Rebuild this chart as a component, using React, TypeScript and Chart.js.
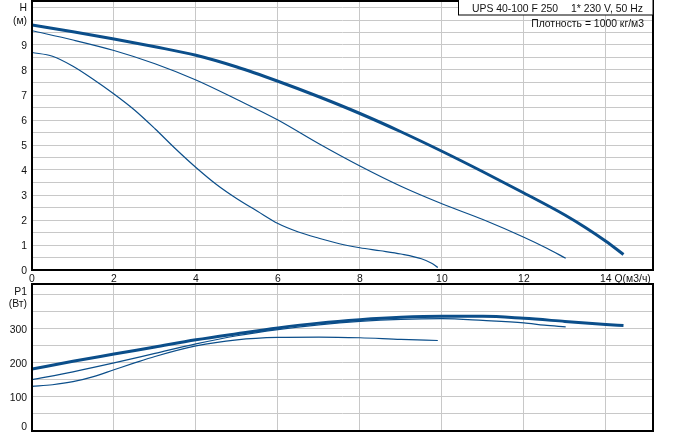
import { useEffect, useRef } from 'react';
import { Chart, registerables } from 'chart.js';

Chart.register(...registerables);

const FONT = '"Liberation Sans", Arial, sans-serif';
const FONT_SIZE = 10.4;
const CURVE = '#0b4e8a';
const GRID = '#c8c8c8';
const TEXT = '#111111';

// Axis ticks / labels
const qTickLabels = [0, 2, 4, 6, 8, 10, 12, 14];
const hTickLabels = [0, 1, 2, 3, 4, 5, 6, 7, 8, 9];
const pTickLabels = [0, 100, 200, 300];
const Q_UNIT = 'Q(м3/ч)';
const H_TITLE = 'H';
const H_UNIT = '(м)';
const P_TITLE = 'P1';
const P_UNIT = '(Вт)';
const MODEL = 'UPS 40-100 F 250';
const SUPPLY = '1* 230 V, 50 Hz';
const DENSITY = 'Плотность = 1000 кг/м3';

// H(Q) curves – speed 3, 2, 1
const hQ3 = [0, 1, 2, 3, 4, 5, 6, 7, 8, 9, 10, 11, 12, 13, 13.5, 14, 14.43];
const hH3 = [9.8, 9.53, 9.24, 8.93, 8.59, 8.12, 7.55, 6.93, 6.26, 5.53, 4.75, 3.93, 3.08, 2.2, 1.7, 1.15, 0.62];
const hQ2 = [0, 1, 2, 3, 4, 5, 6, 7, 8, 9, 10, 11, 12, 12.56, 13.02];
const hH2 = [9.57, 9.2, 8.78, 8.25, 7.6, 6.82, 6.0, 5.05, 4.16, 3.35, 2.65, 2.02, 1.31, 0.87, 0.47];
const hQ1 = [0, 0.5, 1, 1.5, 2, 2.5, 3, 3.5, 4, 4.5, 5, 5.5, 6, 6.5, 7, 7.5, 8, 8.5, 9, 9.5, 9.75, 9.9];
const hH1 = [8.7, 8.55, 8.15, 7.62, 7.04, 6.4, 5.65, 4.85, 4.1, 3.42, 2.85, 2.35, 1.86, 1.52, 1.27, 1.05, 0.89, 0.77, 0.64, 0.45, 0.27, 0.1];

// P1(Q) curves – speed 3, 2, 1
const pQ3 = [0, 1, 2, 3, 4, 5, 6, 7, 8, 9, 10, 11, 12, 13, 14, 14.43];
const pP3 = [182, 205, 226, 247, 268, 286, 303, 317, 327, 334, 337, 337, 331, 322, 313, 310];
const pQ2 = [0, 1, 2, 3, 4, 5, 6, 7, 8, 9, 10, 11, 12, 12.5, 13.02];
const pP2 = [151, 174, 200, 228, 256, 280, 298, 312, 322, 328, 330, 325, 318, 311, 306];
const pQ1 = [0, 0.5, 1, 1.5, 2, 2.5, 3, 4, 5, 6, 7, 8, 9, 9.9];
const pP1 = [131, 136, 145, 160, 180, 200, 219, 250, 268, 275, 276, 274, 269, 266];

const Q_MAX = 15.15;
const H_MAX = 10.76;
const P_MAX = 432;

const pts = (xs: number[], ys: number[]) => xs.map((x, i) => ({ x, y: ys[i] }));

const line = (xs: number[], ys: number[], width: number) => ({
  data: pts(xs, ys),
  borderColor: CURVE,
  borderWidth: width,
  pointRadius: 0,
  fill: false,
  cubicInterpolationMode: 'monotone' as const,
});

function frame(ctx: CanvasRenderingContext2D, a: any) {
  ctx.save();
  ctx.strokeStyle = '#000';
  ctx.lineWidth = 2;
  ctx.strokeRect(a.left, a.top, a.right - a.left, a.bottom - a.top);
  ctx.restore();
}

const topDecor = {
  id: 'topDecor',
  afterDraw(chart: any) {
    const ctx: CanvasRenderingContext2D = chart.ctx;
    const a = chart.chartArea;
    const xs = chart.scales.x;
    const ys = chart.scales.y;
    frame(ctx, a);
    ctx.save();
    ctx.fillStyle = TEXT;
    ctx.font = `${FONT_SIZE}px ${FONT}`;
    ctx.textBaseline = 'alphabetic';
    // y labels
    ctx.textAlign = 'right';
    hTickLabels.forEach((v) => {
      ctx.fillText(String(v), 27, ys.getPixelForValue(v) + 3.7);
    });
    ctx.fillText(H_TITLE, 27, 10.8);
    ctx.fillText(H_UNIT, 27, 24);
    // x labels
    ctx.textAlign = 'center';
    qTickLabels.forEach((v, i) => {
      const px = xs.getPixelForValue(v);
      ctx.fillText(String(v), px, 282);
      if (i === qTickLabels.length - 1) {
        const w = ctx.measureText(String(v)).width;
        ctx.textAlign = 'left';
        ctx.fillText(' ' + Q_UNIT, px + w / 2, 282);
        ctx.textAlign = 'center';
      }
    });
    // header box
    ctx.fillStyle = '#fff';
    ctx.fillRect(458, 0, a.right - 458, 15);
    ctx.strokeStyle = '#000';
    ctx.lineWidth = 1;
    ctx.strokeRect(458.5, -0.5, a.right - 458.5, 15.5);
    ctx.fillStyle = TEXT;
    ctx.textAlign = 'left';
    ctx.fillText(MODEL, 472, 11.7);
    ctx.fillText(SUPPLY, 571, 11.7);
    ctx.textAlign = 'right';
    ctx.fillText(DENSITY, 644, 27);
    ctx.restore();
  },
};

const botDecor = {
  id: 'botDecor',
  afterDraw(chart: any) {
    const ctx: CanvasRenderingContext2D = chart.ctx;
    const a = chart.chartArea;
    const ys = chart.scales.y;
    frame(ctx, a);
    ctx.save();
    ctx.fillStyle = TEXT;
    ctx.font = `${FONT_SIZE}px ${FONT}`;
    ctx.textBaseline = 'alphabetic';
    ctx.textAlign = 'right';
    pTickLabels.forEach((v) => {
      const py = Math.min(ys.getPixelForValue(v), a.bottom - 5);
      ctx.fillText(String(v), 27, py + 3.7);
    });
    ctx.fillText(P_TITLE, 27, 12);
    ctx.fillText(P_UNIT, 27, 24);
    ctx.restore();
  },
};

function axisX(height: number) {
  return {
    type: 'linear' as const,
    min: 0,
    max: Q_MAX,
    afterFit: (s: any) => { s.height = height; },
    grid: { color: GRID, lineWidth: 1, drawTicks: false },
    border: { display: false },
    ticks: { display: false, stepSize: 2, includeBounds: false },
  };
}

function axisY(max: number, step: number) {
  return {
    type: 'linear' as const,
    min: 0,
    max,
    afterFit: (s: any) => { s.width = 32; },
    grid: { color: GRID, lineWidth: 1, drawTicks: false },
    border: { display: false },
    ticks: { display: false, stepSize: step, includeBounds: false },
  };
}

export default function App() {
  const topRef = useRef<HTMLCanvasElement>(null);
  const botRef = useRef<HTMLCanvasElement>(null);

  useEffect(() => {
    const top = new Chart(topRef.current!, {
      type: 'line',
      data: {
        datasets: [line(hQ3, hH3, 3), line(hQ2, hH2, 1.2), line(hQ1, hH1, 1.2)],
      },
      options: {
        animation: false,
        responsive: false,
        devicePixelRatio: 1,
        layout: { padding: { left: 0, right: 33, top: 1, bottom: 0 } },
        plugins: { legend: { display: false }, tooltip: { enabled: false } },
        scales: { x: axisX(13), y: axisY(H_MAX, 0.5) },
      },
      plugins: [topDecor],
    } as any);
    const bot = new Chart(botRef.current!, {
      type: 'line',
      data: {
        datasets: [line(pQ3, pP3, 3), line(pQ2, pP2, 1.2), line(pQ1, pP1, 1.2)],
      },
      options: {
        animation: false,
        responsive: false,
        devicePixelRatio: 1,
        layout: { padding: { left: 0, right: 33, top: 1, bottom: 1 } },
        plugins: { legend: { display: false }, tooltip: { enabled: false } },
        scales: { x: axisX(0), y: axisY(P_MAX, 50) },
      },
      plugins: [botDecor],
    } as any);
    return () => {
      top.destroy();
      bot.destroy();
    };
  }, []);

  return (
    <div style={{ position: 'fixed', left: 0, top: 0, width: 686, height: 432, background: '#fff', overflow: 'hidden' }}>
      <canvas ref={topRef} width={686} height={283} style={{ position: 'absolute', left: 0, top: 0, width: 686, height: 283 }} />
      <canvas ref={botRef} width={686} height={149} style={{ position: 'absolute', left: 0, top: 283, width: 686, height: 149 }} />
    </div>
  );
}
